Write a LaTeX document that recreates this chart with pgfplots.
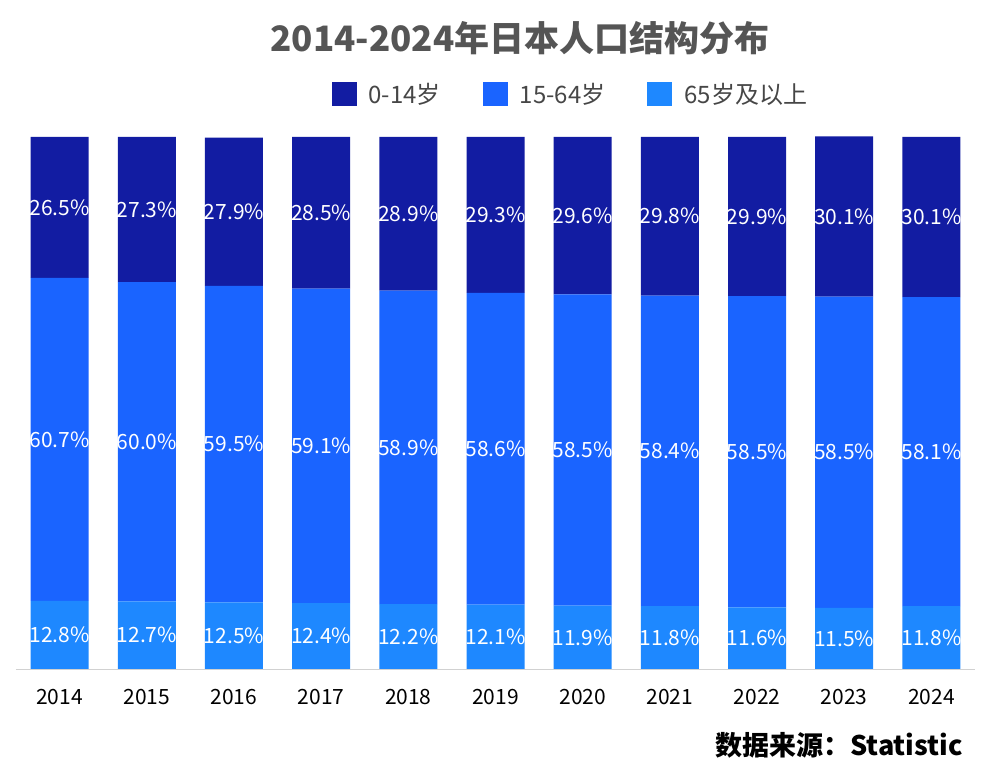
\documentclass[border=0pt]{standalone}
\usepackage{pgfplots}
\pgfplotsset{compat=1.18}
\usepackage{pgfplotstable}
\usepackage{fontspec}
\setmainfont{Noto Sans CJK SC}
\definecolor{cdark}{RGB}{18,28,162}
\definecolor{cmid}{RGB}{26,100,255}
\definecolor{clight}{RGB}{30,136,255}
\definecolor{ctitle}{RGB}{85,85,85}
\definecolor{clegend}{RGB}{70,70,70}
\pgfplotstableread{
x year old mid young
0 2014 12.8 60.7 26.5
1 2015 12.7 60.0 27.3
2 2016 12.5 59.5 27.9
3 2017 12.4 59.1 28.5
4 2018 12.2 58.9 28.9
5 2019 12.1 58.6 29.3
6 2020 11.9 58.5 29.6
7 2021 11.8 58.4 29.8
8 2022 11.6 58.5 29.9
9 2023 11.5 58.5 30.1
10 2024 11.8 58.1 30.1
}\datatable
\pgfplotstablecreatecol[create col/expr={\thisrow{old}/2}]{c1}\datatable
\pgfplotstablecreatecol[create col/expr={\thisrow{old}+\thisrow{mid}/2}]{c2}\datatable
\pgfplotstablecreatecol[create col/expr={\thisrow{old}+\thisrow{mid}+\thisrow{young}/2}]{c3}\datatable
\pgfplotsset{
  commonframe/.style={
    at={(16pt,104pt)}, anchor=south west,
    scale only axis, width=959pt, height=532pt,
    xmin=-0.5, xmax=10.5, ymin=0, ymax=100,
  }
}
\begin{document}
\begin{tikzpicture}
\useasboundingbox (0,0) rectangle (984pt,773pt);
\begin{axis}[
  commonframe,
  ybar stacked, bar width=58pt,
  clip=true,
  hide y axis,
  axis x line*=bottom,
  x axis line style={draw=black!18, line width=0.8pt, -},
  xtick={0,1,2,3,4,5,6,7,8,9,10},
  xticklabels={2014,2015,2016,2017,2018,2019,2020,2021,2022,2023,2024},
  major tick length=0pt,
  xticklabel style={font=\fontsize{21}{21}\selectfont, text=black, yshift=-17pt},
  legend columns=3,
  reverse legend,
  legend image code/.code={\draw[#1,draw=none] (0pt,-12pt) rectangle (25pt,12pt);},
  legend style={at={(0.578,1.081)}, anchor=center, draw=none, fill=none,
    font=\fontsize{24}{24}\selectfont, text=clegend,
    /tikz/every even column/.append style={column sep=40pt},
    /tikz/every odd column/.append style={column sep=10pt}},
]
\addplot[fill=clight, draw=none] table[x=x, y=old] {\datatable};
\addplot[fill=cmid, draw=none] table[x=x, y=mid] {\datatable};
\addplot[fill=cdark, draw=none] table[x=x, y=young] {\datatable};
\legend{65岁及以上,15-64岁,0-14岁}
\end{axis}
\begin{axis}[
  commonframe,
  hide axis, clip=false,
  /pgf/number format/assume math mode=true,
  nodes near coords={\pgfmathprintnumber[fixed,fixed zerofill,precision=1]{\pgfplotspointmeta}\%},
  point meta=explicit,
  every node near coord/.append style={anchor=center, text=white, font=\fontsize{21}{21}\selectfont, inner sep=0pt, yshift=0pt},
]
\addplot[only marks, mark=none] table[x=x, y=c1, meta=old] {\datatable};
\addplot[only marks, mark=none] table[x=x, y=c2, meta=mid] {\datatable};
\addplot[only marks, mark=none] table[x=x, y=c3, meta=young] {\datatable};
\end{axis}
\node[font=\fontsize{35}{35}\selectfont\bfseries, text=ctitle] at (520pt,735pt) {2014-2024年日本人口结构分布};
\node[font=\fontsize{27}{27}\selectfont\bfseries, text=black, anchor=east, inner sep=0pt] at (963pt,28pt) {数据来源：Statistic};
\end{tikzpicture}
\end{document}
